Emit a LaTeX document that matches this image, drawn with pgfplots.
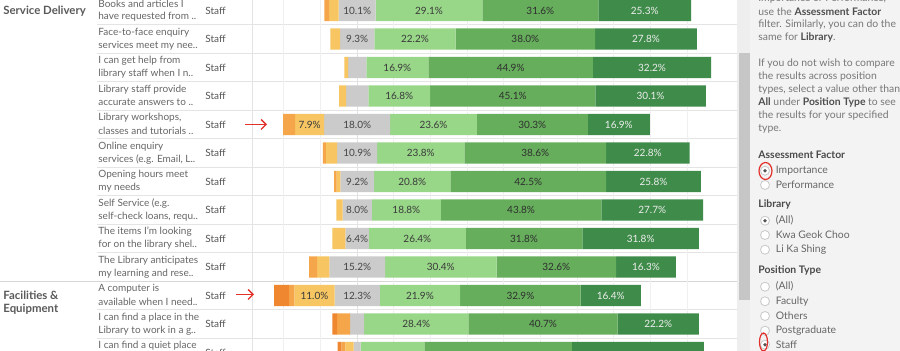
\documentclass[border=0pt]{standalone}
\usepackage{fontspec}
\setmainfont{Lato}
\usepackage{pgfplots}
\pgfplotsset{compat=1.18}
\usepackage{pgfplotstable}
\usetikzlibrary{arrows.meta}
\definecolor{dor}{HTML}{EF8630}
\definecolor{ora}{HTML}{F6A64A}
\definecolor{yel}{HTML}{F7C662}
\definecolor{neu}{HTML}{CBCBCB}
\definecolor{lg}{HTML}{98D688}
\definecolor{mg}{HTML}{66AE5C}
\definecolor{dg}{HTML}{3F8C4A}
\definecolor{txt}{HTML}{666666}
\definecolor{txtb}{HTML}{4F4F4F}
\definecolor{sep}{HTML}{E4E4E4}
\definecolor{gridc}{HTML}{F0F0F0}
\definecolor{zeroc}{HTML}{E2E2E2}
\definecolor{panel}{HTML}{F3F3F3}
\definecolor{track}{HTML}{EEEEEE}
\definecolor{thumb}{HTML}{C6C6C6}
\definecolor{grpsep}{HTML}{D6D6D6}
\definecolor{annot}{HTML}{E2302A}
\definecolor{c3a}{HTML}{3A3A3A}
\definecolor{c44}{HTML}{444444}
\definecolor{c2f}{HTML}{2F2F2F}
\definecolor{cee}{HTML}{EEEEEE}
\definecolor{c5a}{HTML}{5A5A5A}
\definecolor{c55}{HTML}{555555}
\definecolor{c77}{HTML}{777777}
\definecolor{c4a}{HTML}{4A4A4A}
\definecolor{c66}{HTML}{666666}
\definecolor{cc8}{HTML}{C8C8C8}
\newcommand\flab{\fontsize{5pt}{6pt}\selectfont}
\newcommand\fq{\fontsize{5pt}{6pt}\selectfont}
\newcommand\fp{\fontsize{5.2pt}{6pt}\selectfont}
\newcommand\fg{\fontsize{5.7pt}{7pt}\selectfont\bfseries}

\pgfplotstableread{
y d1 d2 d3 n g1 g2 g3 nl yl
10.5 0 1.3 2.6 10.1 29.1 31.6 25.3 1 0
39 0 0 2.7 9.3 22.2 38.0 27.8 1 0
67.5 0 0 1.0 5.0 16.9 44.9 32.2 0 0
96 0 0 1.9 6.1 16.8 45.1 30.1 0 0
124.5 0 3.3 7.9 18.0 23.6 30.3 16.9 1 1
153 0 0.8 3.1 10.9 23.8 38.6 22.8 1 0
181.5 0 0.7 1.0 9.2 20.8 42.5 25.8 1 0
210 0 0 1.7 8.0 18.8 43.8 27.7 1 0
238.5 0 0 3.6 6.4 26.4 31.8 31.8 1 0
267 0 2.2 3.3 15.2 30.4 32.6 16.3 1 0
295.5 4.1 1.4 11.0 12.3 21.9 32.9 16.4 1 1
324 1.3 3.6 0 3.8 28.4 40.7 22.2 0 0
352.5 1.0 1.1 2.3 1.9 17.4 40.2 36.0 0 0
}\data

\pgfplotsset{
  pane/.style={
    at={(126pt,0pt)}, anchor=north west,
    scale only axis, width=242.5pt, height=175.5pt,
    xmin=-28.69, xmax=103.57, ymin=0, ymax=351, y dir=reverse,
    axis line style={draw=none}, ytick=\empty,
    /pgf/number format/assume math mode=true,
  },
  lab/.style={draw=none, mark=none, nodes near coords={\pgfmathprintnumber[fixed,fixed zerofill,precision=1,assume math mode=true]{\pgfplotspointmeta}\%},
    point meta=explicit,
    every node near coord/.append style={anchor=center, font=\flab, text=#1, inner sep=0pt}},
}

\begin{document}
\begin{tikzpicture}
\path[use as bounding box] (0,0) rectangle (450pt,-175.5pt);
\clip (0,0) rectangle (450pt,-175.5pt);
\begin{scope}[x=0.5pt,y=-0.5pt]
\fill[white] (0,0) rectangle (900,351);
\fill[panel] (750,0) rectangle (900,351);
\fill[track] (737,0) rectangle (750,351);
\fill[thumb] (738.5,53) rectangle (749.5,300);
\draw[sep, line width=0.5pt] (252,0) -- (252,351);
\foreach \yy in {24.75,53.25,81.75,110.25,138.75,167.25,195.75,224.25,252.75,309.75,338.25}
  \draw[sep, line width=0.5pt] (97,\yy) -- (737,\yy);
\draw[grpsep, line width=0.9pt] (0,281.5) -- (737,281.5);
\end{scope}

\begin{axis}[pane, xbar stacked, stack negative=on previous, bar width=10.7pt,
  xtick={-20,-10,...,90}, xticklabels={}, major tick length=0pt,
  xmajorgrids, grid style={gridc, line width=0.5pt},
  extra x ticks={0}, extra x tick labels={}, extra x tick style={grid style={zeroc, line width=0.5pt}}]
\addplot[fill=none, draw=none] table[x expr={-(\thisrow{d1}+\thisrow{d2}+\thisrow{d3}+\thisrow{n}/2)}, y=y]{\data};
\addplot[fill=dor, draw=none] table[x=d1, y=y]{\data};
\addplot[fill=ora, draw=none] table[x=d2, y=y]{\data};
\addplot[fill=yel, draw=none] table[x=d3, y=y]{\data};
\addplot[fill=neu, draw=none] table[x=n, y=y]{\data};
\addplot[fill=lg, draw=none] table[x=g1, y=y]{\data};
\addplot[fill=mg, draw=none] table[x=g2, y=y]{\data};
\addplot[fill=dg, draw=none] table[x=g3, y=y]{\data};
\end{axis}

\begin{axis}[pane, hide axis]
\addplot[lab=c3a, restrict expr to domain={\thisrow{yl}}{0.5:1.5}] table[x expr={-\thisrow{n}/2-\thisrow{d3}/2}, y=y, meta=d3]{\data};
\addplot[lab=c44, restrict expr to domain={\thisrow{nl}}{0.5:1.5}] table[x expr={0}, y=y, meta=n]{\data};
\addplot[lab=c3a] table[x expr={\thisrow{n}/2+\thisrow{g1}/2}, y=y, meta=g1]{\data};
\addplot[lab=c2f] table[x expr={\thisrow{n}/2+\thisrow{g1}+\thisrow{g2}/2}, y=y, meta=g2]{\data};
\addplot[lab=cee] table[x expr={\thisrow{n}/2+\thisrow{g1}+\thisrow{g2}+\thisrow{g3}/2}, y=y, meta=g3]{\data};
\end{axis}

\begin{scope}[x=0.5pt,y=-0.5pt, every node/.style={anchor=west, inner sep=0pt}]
\node[font=\fg, text=c5a] at (3,11) {Service Delivery};
\node[font=\fg, text=c5a] at (3,295.3) {Facilities \&};
\node[font=\fg, text=c5a] at (3,309.3) {Equipment};
\foreach \yc/\la/\lb in {
  10.5/{Books and articles I}/{have requested from ..},
  39/{Face-to-face enquiry}/{services meet my nee..},
  67.5/{I can get help from}/{library staff when I n..},
  96/{Library staff provide}/{accurate answers to ..},
  124.5/{Library workshops,}/{classes and tutorials ..},
  153/{Online enquiry}/{services (e.g. Email, L..},
  181.5/{Opening hours meet}/{my needs},
  210/{Self Service (e.g.}/{self-check loans, requ..},
  238.5/{The items I’m looking}/{for on the library shel..},
  267/{The Library anticipates}/{my learning and rese..},
  295.5/{A computer is}/{available when I need..},
  324/{I can find a place in the}/{Library to work in a g..},
  352.5/{I can find a quiet place}/{}}
{
  \node[font=\fq, text=txt] at (98,\yc-6.6) {\la};
  \node[font=\fq, text=txt] at (98,\yc+6.6) {\lb};
  \node[font=\fq, text=c55] at (205,\yc) {Staff};
}
\draw[annot, line width=0.7pt, -{Straight Barb[length=2.5pt,width=5pt]}] (245,124.5) -- (267,124.5);
\draw[annot, line width=0.7pt, -{Straight Barb[length=2.5pt,width=5pt]}] (236,294.5) -- (254,294.5);
\foreach \yy/\tt in {
  -1/{Importance or Performance,},
  11.7/{use the {\color{txtb}\bfseries Assessment Factor}},
  24.3/{filter. Similarly, you can do the},
  37.3/{same for {\color{txtb}\bfseries Library}.},
  63.3/{If you do not wish to compare},
  76.7/{the results across position},
  90/{types, select a value other than},
  102.7/{{\color{txtb}\bfseries All} under {\color{txtb}\bfseries Position Type} to see},
  116/{the results for your specified},
  129.3/{type.}}
  \node[font=\fp, text=c77] at (758,\yy) {\tt};
\node[font=\fp\bfseries, text=c4a] at (758,154.3) {Assessment Factor};
\node[font=\fp\bfseries, text=c4a] at (758,204.3) {Library};
\node[font=\fp\bfseries, text=c4a] at (758,270.3) {Position Type};
\foreach \yy/\tt/\sel in {170.7/Importance/1, 185/Performance/0, 220.7/(All)/1, 235/Kwa Geok Choo/0, 249.7/Li Ka Shing/0,
  286.7/(All)/0, 301.3/Faculty/0, 316/Others/0, 330.7/Postgraduate/0, 344.7/Staff/1}
{
  \filldraw[fill=white, draw=cc8, line width=0.4pt] (765,\yy) circle[radius=4.5];
  \ifnum\sel=1 \fill[c55] (765,\yy) circle[radius=1.9]; \fi
  \node[font=\fp, text=c66] at (775.5,\yy) {\tt};
}
\draw[annot, line width=0.6pt] (765.5,171) ellipse[x radius=6.5, y radius=8.5];
\draw[annot, line width=0.6pt] (763.5,342) ellipse[x radius=4, y radius=9];
\end{scope}
\end{tikzpicture}
\end{document}
